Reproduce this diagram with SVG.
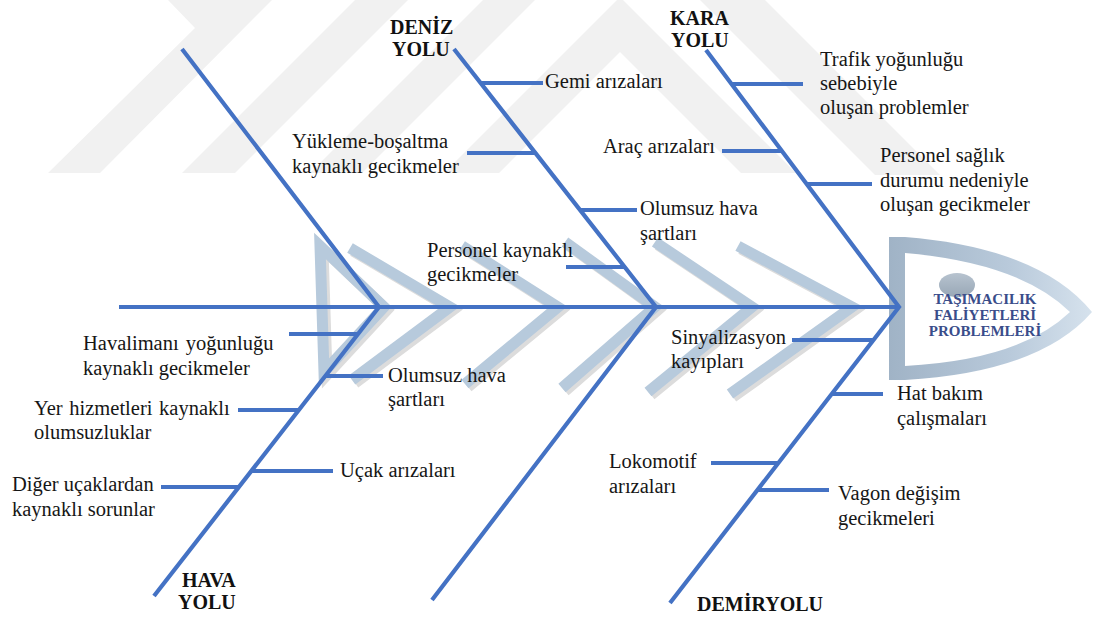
<svg xmlns="http://www.w3.org/2000/svg" width="1095" height="617" viewBox="0 0 1095 617">
<defs>
<style>
.wm{fill:#f1f1f1}
.arm{fill:none;stroke:#b7cadc;stroke-width:11;stroke-linejoin:miter;stroke-linecap:butt}
.armsh{fill:none;stroke:#dcdcdc;stroke-width:11;stroke-linejoin:miter}
.bone{stroke:#4472C4;stroke-width:4.2;fill:none;stroke-linecap:butt}
.br{stroke:#4472C4;stroke-width:4.2;fill:none}
.lbl{font-family:"Liberation Serif","Times New Roman",serif;font-size:20.5px;fill:#161616}
.cat{font-family:"Liberation Serif","Times New Roman",serif;font-size:20px;font-weight:bold;fill:#111}
.hd{font-family:"Liberation Serif","Times New Roman",serif;font-size:15px;font-weight:bold;fill:#3a4d8a;text-anchor:middle}
</style>
<linearGradient id="headg" x1="0" y1="0" x2="1" y2="0">
<stop offset="0" stop-color="#a0b3c6"/>
<stop offset="0.6" stop-color="#b9cadb"/>
<stop offset="1" stop-color="#d6e2ed"/>
</linearGradient>
<linearGradient id="eyeg" x1="0" y1="0" x2="0" y2="1">
<stop offset="0" stop-color="#b7c3cf"/>
<stop offset="1" stop-color="#98a7b6"/>
</linearGradient>
</defs>
<rect width="1095" height="617" fill="#ffffff"/>

<g id="watermark">
<polygon class="wm" points="48,173 195,28 168,0 272,0 100,173"/>
<polygon class="wm" points="182,173 235,173 408,0 355,0"/>
<polygon class="wm" points="310,173 362,173 535,0 483,0"/>
<polygon class="wm" points="444,173 617,0 623,0 796,173 741,173 620,52 499,173"/>
<polygon class="wm" points="700,0 765,0 940,175 875,175"/>
</g>

<g id="fish-bg">
<g transform="translate(3,3)">
<path class="armsh" d="M320,246 L384,307 L324,372 Z"/>
<path class="armsh" d="M350,248 L450,307 L352,380"/>
<path class="armsh" d="M462,246 L558,307 L465,384"/>
<path class="armsh" d="M565,242 L655,307 L562,388"/>
<path class="armsh" d="M655,242 L752,307 L648,392"/>
<path class="armsh" d="M738,246 L852,307 L730,394"/>
</g>
<path class="arm" d="M320,246 L384,307 L324,372 Z"/>
<path class="arm" d="M350,248 L450,307 L352,380"/>
<path class="arm" d="M462,246 L558,307 L465,384"/>
<path class="arm" d="M565,242 L655,307 L562,388"/>
<path class="arm" d="M655,242 L752,307 L648,392"/>
<path class="arm" d="M738,246 L852,307 L730,394"/>
<path fill="url(#headg)" fill-rule="evenodd" d="M889,237 L905,237 Q1040,248 1092,312 Q1040,372 905,380 L889,380 Z M905,253 Q1020,263 1070,312 Q1020,360 905,366 Z"/>
<ellipse cx="957" cy="285" rx="18" ry="12" fill="url(#eyeg)"/>
</g>

<g id="connectors">
<line class="bone" x1="119" y1="307" x2="899" y2="307"/>
<polyline class="bone" points="182,49 379,307 154,596"/>
<polyline class="bone" points="454,49 656,307 432,600"/>
<polyline class="bone" points="706,50 899,307 670,603"/>
<line class="br" x1="481" y1="83" x2="543" y2="83"/>
<line class="br" x1="467" y1="153" x2="536" y2="153"/>
<line class="br" x1="580" y1="210" x2="637" y2="210"/>
<line class="br" x1="566" y1="267" x2="625" y2="267"/>
<line class="br" x1="731" y1="84" x2="803" y2="84"/>
<line class="br" x1="722" y1="151" x2="783" y2="151"/>
<line class="br" x1="806" y1="184" x2="872" y2="184"/>
<line class="br" x1="289" y1="334" x2="358" y2="334"/>
<line class="br" x1="326" y1="376" x2="383" y2="376"/>
<line class="br" x1="238" y1="410" x2="299" y2="410"/>
<line class="br" x1="251" y1="471" x2="333" y2="471"/>
<line class="br" x1="161" y1="487" x2="240" y2="487"/>
<line class="br" x1="792" y1="340" x2="874" y2="340"/>
<line class="br" x1="832" y1="394" x2="883" y2="394"/>
<line class="br" x1="711" y1="463" x2="779" y2="463"/>
<line class="br" x1="757" y1="490" x2="829" y2="490"/>
</g>

<g id="cat-deniz"><text class="cat" x="390" y="34">DENİZ</text><text class="cat" x="392" y="56">YOLU</text></g>
<g id="cat-kara"><text class="cat" x="670" y="25">KARA</text><text class="cat" x="671" y="47">YOLU</text></g>
<g id="cat-hava"><text class="cat" x="182" y="587">HAVA</text><text class="cat" x="178" y="609">YOLU</text></g>
<g id="cat-demiryolu"><text class="cat" x="697" y="611">DEMİRYOLU</text></g>

<g id="head"><text class="hd" x="985" y="304">TAŞIMACILIK</text><text class="hd" x="985" y="320">FALİYETLERİ</text><text class="hd" x="985" y="336">PROBLEMLERİ</text></g>

<g id="n-gemi"><text class="lbl" x="545" y="88">Gemi arızaları</text></g>
<g id="n-yukleme"><text class="lbl" x="292" y="148">Yükleme-boşaltma</text><text class="lbl" x="292" y="173">kaynaklı gecikmeler</text></g>
<g id="n-deniz-hava"><text class="lbl" x="640" y="215">Olumsuz hava</text><text class="lbl" x="640" y="240">şartları</text></g>
<g id="n-personel-kaynakli"><text class="lbl" x="427" y="257">Personel kaynaklı</text><text class="lbl" x="427" y="281">gecikmeler</text></g>
<g id="n-trafik"><text class="lbl" x="820" y="66">Trafik yoğunluğu</text><text class="lbl" x="820" y="90">sebebiyle</text><text class="lbl" x="820" y="114">oluşan problemler</text></g>
<g id="n-arac"><text class="lbl" x="715" y="153" text-anchor="end">Araç arızaları</text></g>
<g id="n-personel-saglik"><text class="lbl" x="880" y="162">Personel sağlık</text><text class="lbl" x="880" y="187">durumu nedeniyle</text><text class="lbl" x="880" y="211">oluşan gecikmeler</text></g>
<g id="n-havalimani"><text class="lbl" x="83" y="350" word-spacing="2">Havalimanı yoğunluğu</text><text class="lbl" x="83" y="375">kaynaklı gecikmeler</text></g>
<g id="n-hava-hava"><text class="lbl" x="388" y="382">Olumsuz hava</text><text class="lbl" x="388" y="406">şartları</text></g>
<g id="n-yer"><text class="lbl" x="34" y="415" word-spacing="1.5">Yer hizmetleri kaynaklı</text><text class="lbl" x="34" y="439">olumsuzluklar</text></g>
<g id="n-ucak"><text class="lbl" x="340" y="477">Uçak arızaları</text></g>
<g id="n-diger"><text class="lbl" x="12" y="491">Diğer uçaklardan</text><text class="lbl" x="12" y="516">kaynaklı sorunlar</text></g>
<g id="n-sinyal"><text class="lbl" x="671" y="344">Sinyalizasyon</text><text class="lbl" x="671" y="368">kayıpları</text></g>
<g id="n-hat"><text class="lbl" x="897" y="400">Hat bakım</text><text class="lbl" x="897" y="425">çalışmaları</text></g>
<g id="n-lokomotif"><text class="lbl" x="609" y="468">Lokomotif</text><text class="lbl" x="609" y="493">arızaları</text></g>
<g id="n-vagon"><text class="lbl" x="838" y="500">Vagon değişim</text><text class="lbl" x="838" y="525">gecikmeleri</text></g>
</svg>
